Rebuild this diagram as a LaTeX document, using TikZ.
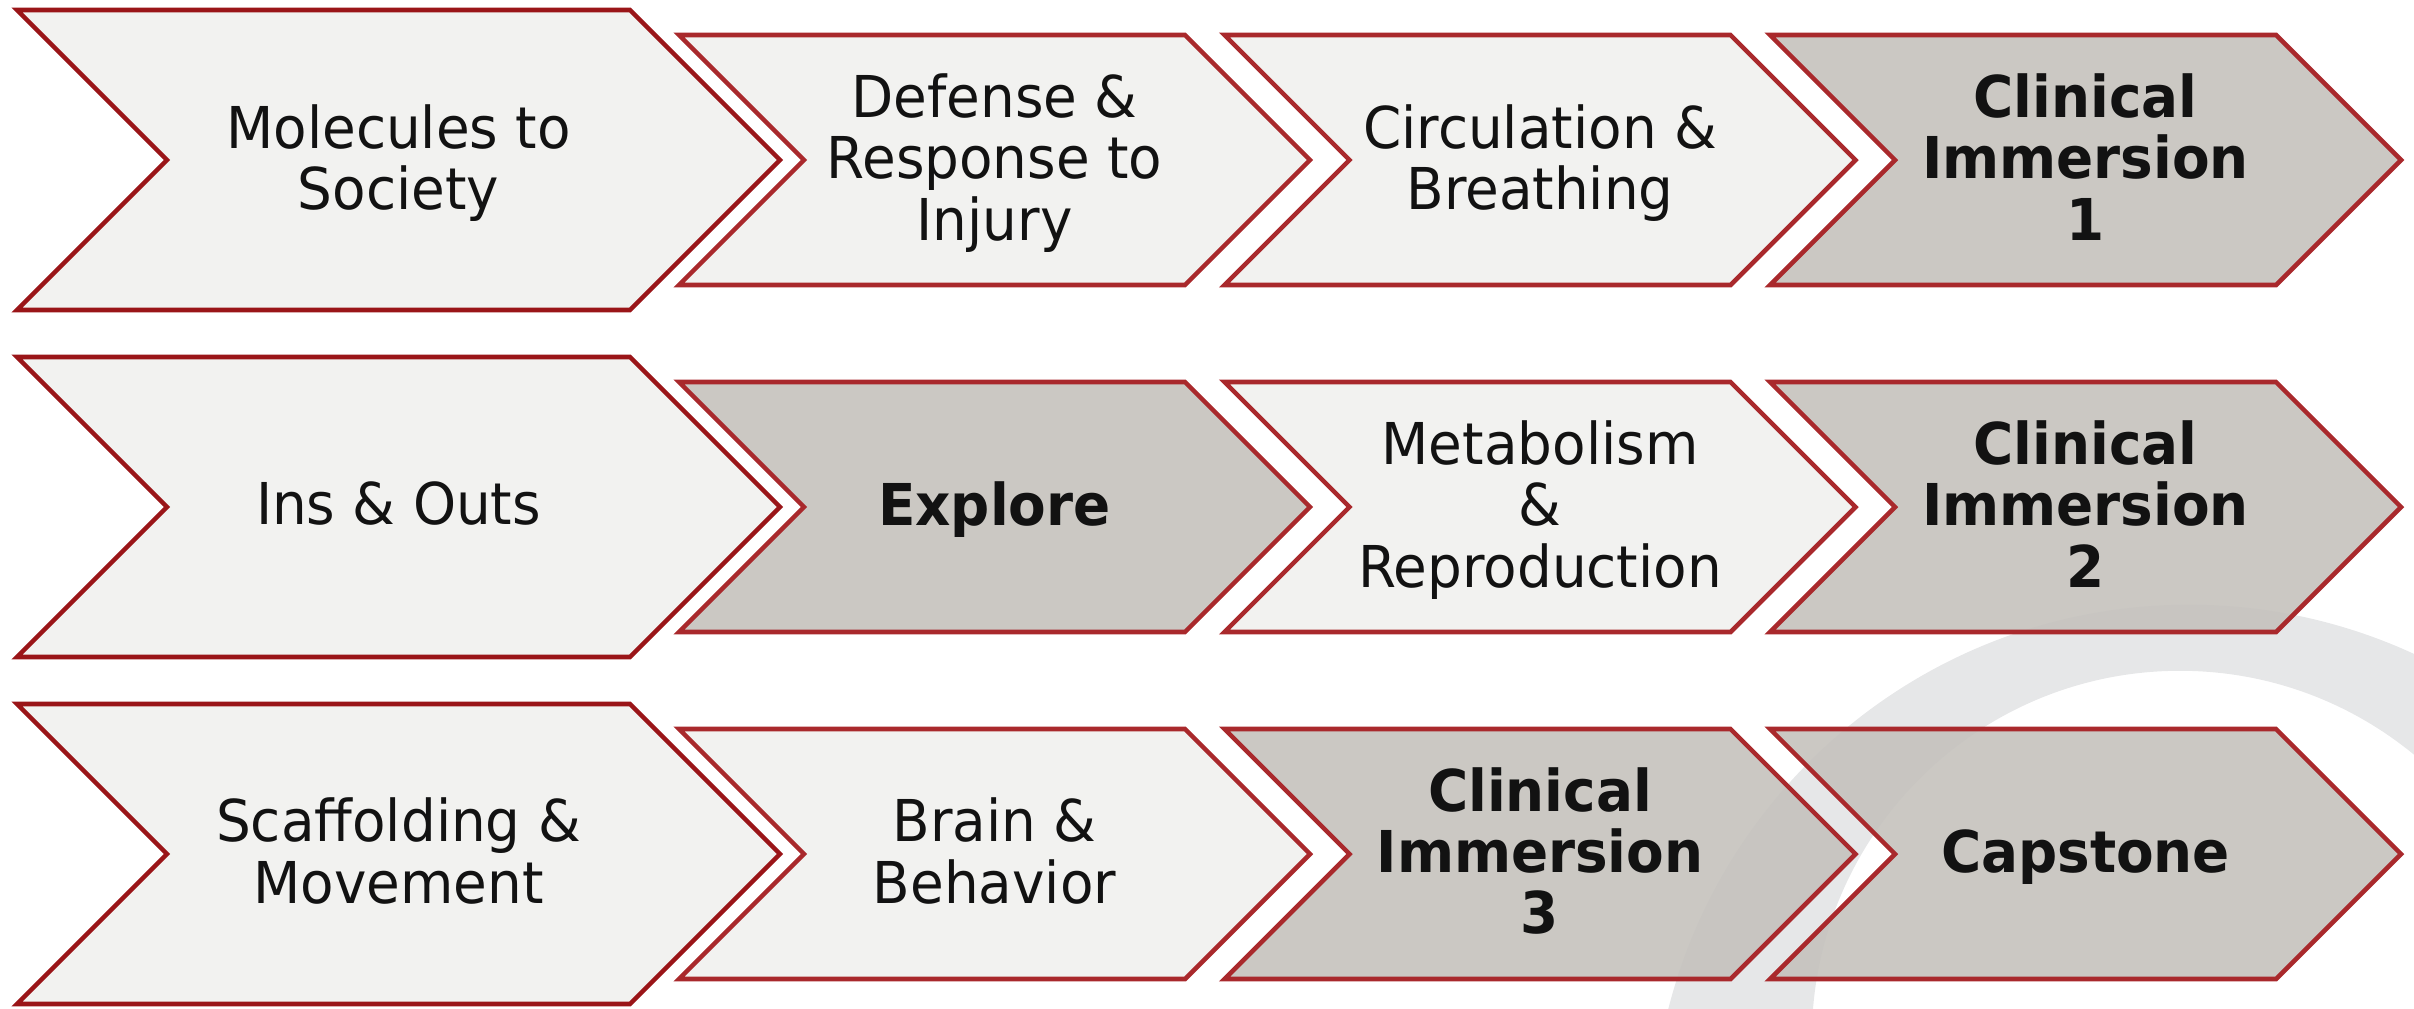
\documentclass[tikz,border=0pt]{standalone}
\usepackage{fontspec}
\setmainfont{DejaVu Sans}[FakeStretch=0.95]
\usetikzlibrary{calc}

\definecolor{paper}{HTML}{F2F2F0}
\definecolor{stone}{HTML}{C5C2BD}
\definecolor{wine}{HTML}{9A1518}
\definecolor{brick}{HTML}{A9292C}
\definecolor{haze}{HTML}{E6E7E8}

\tikzset{
  firststage/.style={draw=wine, fill=paper, line width=1.3pt},
  lightstage/.style={draw=brick, fill=paper, line width=1.3pt},
  clinic/.style={draw=brick, fill=stone, fill opacity=0.9, draw opacity=1, line width=1.3pt},
  stagetext/.style={align=center, text=black!93, inner sep=0pt, yshift=0.03cm,
    font=\fontsize{16.4}{17.4}\selectfont},
  boldtext/.style={stagetext, font=\fontsize{16.4}{17.4}\selectfont\bfseries}
}

% last line without its descender, so every label sits alike
\newcommand{\nodrop}[1]{\raisebox{0pt}[\height][0pt]{#1}}

% #1 name, #2 look, #3 text look, #4 x, #5 y, #6 half width, #7 half height, #8 text
\newcommand{\chevron}[8]{%
  \filldraw[#2] ({#4-#6},{#5-#7}) -- ({#4+#6-#7},{#5-#7}) -- ({#4+#6},#5)
    -- ({#4+#6-#7},{#5+#7}) -- ({#4-#6},{#5+#7}) -- ({#4-#6+#7},#5) -- cycle;
  \node[#3] (#1) at (#4,#5) {#8};
}

\begin{document}
\begin{tikzpicture}[x=0.01cm, y=-0.01cm]
  \useasboundingbox (0,0) rectangle (2414,1009);
  % grey crescent behind the last rows
  \begin{scope}
    \clip (0,0) rectangle (2414,1009);
    \fill[haze, even odd rule] (2189,1142) circle (5.37cm) (2180,1039) circle (3.68cm);
  \end{scope}

  % first row
  \chevron{molecules}{firststage}{stagetext}{398.5}{160}{381.5}{150}{Molecules to\\\nodrop{Society}}
  \chevron{defense}{lightstage}{stagetext}{994.5}{160}{315.5}{125}{Defense \&\\Response to\\\nodrop{Injury}}
  \chevron{circulation}{lightstage}{stagetext}{1540}{160}{315.5}{125}{Circulation \&\\\nodrop{Breathing}}
  \chevron{clinicone}{clinic}{boldtext}{2085.5}{160}{315.5}{125}{Clinical\\Immersion\\1}

  % second row
  \chevron{insouts}{firststage}{stagetext}{398.5}{507}{381.5}{150}{Ins \& Outs}
  \chevron{explore}{clinic}{boldtext}{994.5}{507}{315.5}{125}{\nodrop{Explore}}
  \chevron{metabolism}{lightstage}{stagetext}{1540}{507}{315.5}{125}{Metabolism\\\&\\\nodrop{Reproduction}}
  \chevron{clinictwo}{clinic}{boldtext}{2085.5}{507}{315.5}{125}{Clinical\\Immersion\\2}

  % third row
  \chevron{scaffolding}{firststage}{stagetext}{398.5}{854}{381.5}{150}{Scaffolding \&\\Movement}
  \chevron{brain}{lightstage}{stagetext}{994.5}{854}{315.5}{125}{Brain \&\\Behavior}
  \chevron{clinicthree}{clinic}{boldtext}{1540}{854}{315.5}{125}{Clinical\\Immersion\\3}
  \chevron{capstone}{clinic}{boldtext}{2085.5}{854}{315.5}{125}{\nodrop{Capstone}}
\end{tikzpicture}
\end{document}
